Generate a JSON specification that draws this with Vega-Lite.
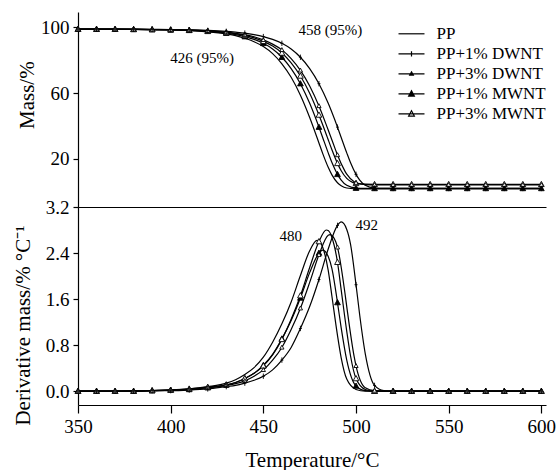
{
  "$schema": "https://vega.github.io/schema/vega-lite/v6.json",
  "padding": {"left": 11, "top": 12, "right": 5, "bottom": 5},
  "spacing": 0,
  "bounds": "flush",
  "background": "white",
  "config": {
    "view": {"stroke": null},
    "axis": {
      "labelFont": "Liberation Serif", "labelFontSize": 19, "labelColor": "black",
      "titleFont": "Liberation Serif", "titleFontSize": 21, "titleFontWeight": "normal", "titleColor": "black",
      "domainColor": "black", "tickColor": "black", "domainWidth": 1.2, "tickWidth": 1.2,
      "grid": false, "labelFlush": false, "labelOverlap": false, "labelBound": false
    }
  },
  "datasets": {
    "tg": [
      {"s":"PP","T":350,"m":98.9,"d":0},{"s":"PP","T":360,"m":98.9,"d":0},{"s":"PP","T":370,"m":98.8,"d":0},{"s":"PP","T":380,"m":98.8,"d":0.01},{"s":"PP","T":390,"m":98.7,"d":0.01},{"s":"PP","T":400,"m":98.5,"d":0.02},{"s":"PP","T":410,"m":98.1,"d":0.04},{"s":"PP","T":420,"m":97.3,"d":0.08},{"s":"PP","T":430,"m":96.0,"d":0.14},{"s":"PP","T":435,"m":95.0,"d":0.20},{"s":"PP","T":440,"m":93.4,"d":0.29},{"s":"PP","T":445,"m":91.3,"d":0.41},{"s":"PP","T":450,"m":88.3,"d":0.59},{"s":"PP","T":455,"m":84.0,"d":0.85},{"s":"PP","T":460,"m":77.8,"d":1.17},{"s":"PP","T":465,"m":69.6,"d":1.55},{"s":"PP","T":470,"m":58.7,"d":2.01},{"s":"PP","T":475,"m":45.1,"d":2.44},{"s":"PP","T":479,"m":32.7,"d":2.62},{"s":"PP","T":480,"m":29.5,"d":2.61},{"s":"PP","T":482,"m":23.2,"d":2.50},{"s":"PP","T":485,"m":14.7,"d":2.10},{"s":"PP","T":487,"m":10.1,"d":1.65},{"s":"PP","T":490,"m":5.3,"d":0.97},{"s":"PP","T":492,"m":3.5,"d":0.58},{"s":"PP","T":495,"m":2.1,"d":0.21},{"s":"PP","T":500,"m":1.6,"d":0.03},{"s":"PP","T":505,"m":1.5,"d":0},{"s":"PP","T":510,"m":1.5,"d":0},{"s":"PP","T":520,"m":1.5,"d":0},{"s":"PP","T":530,"m":1.5,"d":0},{"s":"PP","T":540,"m":1.5,"d":0},{"s":"PP","T":550,"m":1.5,"d":0},{"s":"PP","T":560,"m":1.5,"d":0},{"s":"PP","T":570,"m":1.5,"d":0},{"s":"PP","T":580,"m":1.5,"d":0},{"s":"PP","T":590,"m":1.5,"d":0},{"s":"PP","T":600,"m":1.5,"d":0},

      {"s":"PP+1% MWNT","T":350,"m":98.9,"d":0},{"s":"PP+1% MWNT","T":360,"m":98.9,"d":0},{"s":"PP+1% MWNT","T":370,"m":98.9,"d":0},{"s":"PP+1% MWNT","T":380,"m":98.8,"d":0},{"s":"PP+1% MWNT","T":390,"m":98.7,"d":0.01},{"s":"PP+1% MWNT","T":400,"m":98.5,"d":0.02},{"s":"PP+1% MWNT","T":410,"m":98.2,"d":0.03},{"s":"PP+1% MWNT","T":420,"m":97.6,"d":0.06},{"s":"PP+1% MWNT","T":430,"m":96.5,"d":0.11},{"s":"PP+1% MWNT","T":435,"m":95.6,"d":0.15},{"s":"PP+1% MWNT","T":440,"m":94.4,"d":0.22},{"s":"PP+1% MWNT","T":445,"m":92.7,"d":0.31},{"s":"PP+1% MWNT","T":450,"m":90.3,"d":0.45},{"s":"PP+1% MWNT","T":455,"m":86.8,"d":0.64},{"s":"PP+1% MWNT","T":460,"m":81.8,"d":0.91},{"s":"PP+1% MWNT","T":465,"m":74.9,"d":1.23},{"s":"PP+1% MWNT","T":470,"m":65.7,"d":1.62},{"s":"PP+1% MWNT","T":475,"m":53.7,"d":2.06},{"s":"PP+1% MWNT","T":480,"m":39.2,"d":2.40},{"s":"PP+1% MWNT","T":482,"m":32.9,"d":2.45},{"s":"PP+1% MWNT","T":485,"m":23.5,"d":2.34},{"s":"PP+1% MWNT","T":487,"m":17.6,"d":2.13},{"s":"PP+1% MWNT","T":490,"m":10.4,"d":1.54},{"s":"PP+1% MWNT","T":492,"m":6.9,"d":1.10},{"s":"PP+1% MWNT","T":495,"m":3.7,"d":0.54},{"s":"PP+1% MWNT","T":500,"m":2.0,"d":0.09},{"s":"PP+1% MWNT","T":505,"m":1.8,"d":0.01},{"s":"PP+1% MWNT","T":510,"m":1.8,"d":0},{"s":"PP+1% MWNT","T":520,"m":1.8,"d":0},{"s":"PP+1% MWNT","T":530,"m":1.8,"d":0},{"s":"PP+1% MWNT","T":540,"m":1.8,"d":0},{"s":"PP+1% MWNT","T":550,"m":1.8,"d":0},{"s":"PP+1% MWNT","T":560,"m":1.8,"d":0},{"s":"PP+1% MWNT","T":570,"m":1.8,"d":0},{"s":"PP+1% MWNT","T":580,"m":1.8,"d":0},{"s":"PP+1% MWNT","T":590,"m":1.8,"d":0},{"s":"PP+1% MWNT","T":600,"m":1.8,"d":0},

      {"s":"PP+3% MWNT","T":350,"m":98.9,"d":0},{"s":"PP+3% MWNT","T":360,"m":98.9,"d":0},{"s":"PP+3% MWNT","T":370,"m":98.9,"d":0},{"s":"PP+3% MWNT","T":380,"m":98.8,"d":0},{"s":"PP+3% MWNT","T":390,"m":98.7,"d":0.01},{"s":"PP+3% MWNT","T":400,"m":98.6,"d":0.02},{"s":"PP+3% MWNT","T":410,"m":98.3,"d":0.04},{"s":"PP+3% MWNT","T":420,"m":97.8,"d":0.07},{"s":"PP+3% MWNT","T":430,"m":96.9,"d":0.11},{"s":"PP+3% MWNT","T":435,"m":96.1,"d":0.15},{"s":"PP+3% MWNT","T":440,"m":95.1,"d":0.22},{"s":"PP+3% MWNT","T":445,"m":93.6,"d":0.31},{"s":"PP+3% MWNT","T":450,"m":91.5,"d":0.44},{"s":"PP+3% MWNT","T":455,"m":88.6,"d":0.63},{"s":"PP+3% MWNT","T":460,"m":84.4,"d":0.90},{"s":"PP+3% MWNT","T":465,"m":78.4,"d":1.25},{"s":"PP+3% MWNT","T":470,"m":70.4,"d":1.66},{"s":"PP+3% MWNT","T":475,"m":59.9,"d":2.15},{"s":"PP+3% MWNT","T":480,"m":46.6,"d":2.60},{"s":"PP+3% MWNT","T":484,"m":34.6,"d":2.80},{"s":"PP+3% MWNT","T":485,"m":31.5,"d":2.79},{"s":"PP+3% MWNT","T":487,"m":25.4,"d":2.67},{"s":"PP+3% MWNT","T":490,"m":17.1,"d":2.24},{"s":"PP+3% MWNT","T":492,"m":12.6,"d":1.76},{"s":"PP+3% MWNT","T":495,"m":8.0,"d":1.04},{"s":"PP+3% MWNT","T":497,"m":6.2,"d":0.62},{"s":"PP+3% MWNT","T":500,"m":4.9,"d":0.22},{"s":"PP+3% MWNT","T":505,"m":4.4,"d":0.03},{"s":"PP+3% MWNT","T":510,"m":4.3,"d":0},{"s":"PP+3% MWNT","T":520,"m":4.3,"d":0},{"s":"PP+3% MWNT","T":530,"m":4.3,"d":0},{"s":"PP+3% MWNT","T":540,"m":4.3,"d":0},{"s":"PP+3% MWNT","T":550,"m":4.3,"d":0},{"s":"PP+3% MWNT","T":560,"m":4.3,"d":0},{"s":"PP+3% MWNT","T":570,"m":4.3,"d":0},{"s":"PP+3% MWNT","T":580,"m":4.3,"d":0},{"s":"PP+3% MWNT","T":590,"m":4.3,"d":0},{"s":"PP+3% MWNT","T":600,"m":4.3,"d":0},

      {"s":"PP+3% DWNT","T":350,"m":98.9,"d":0},{"s":"PP+3% DWNT","T":360,"m":98.9,"d":0},{"s":"PP+3% DWNT","T":370,"m":98.9,"d":0},{"s":"PP+3% DWNT","T":380,"m":98.8,"d":0},{"s":"PP+3% DWNT","T":390,"m":98.7,"d":0.01},{"s":"PP+3% DWNT","T":400,"m":98.6,"d":0.02},{"s":"PP+3% DWNT","T":410,"m":98.4,"d":0.03},{"s":"PP+3% DWNT","T":420,"m":97.9,"d":0.06},{"s":"PP+3% DWNT","T":430,"m":97.1,"d":0.10},{"s":"PP+3% DWNT","T":435,"m":96.4,"d":0.13},{"s":"PP+3% DWNT","T":440,"m":95.5,"d":0.18},{"s":"PP+3% DWNT","T":445,"m":94.3,"d":0.26},{"s":"PP+3% DWNT","T":450,"m":92.4,"d":0.37},{"s":"PP+3% DWNT","T":455,"m":89.8,"d":0.54},{"s":"PP+3% DWNT","T":460,"m":86.3,"d":0.76},{"s":"PP+3% DWNT","T":465,"m":81.0,"d":1.07},{"s":"PP+3% DWNT","T":470,"m":73.8,"d":1.44},{"s":"PP+3% DWNT","T":475,"m":64.3,"d":1.89},{"s":"PP+3% DWNT","T":480,"m":52.1,"d":2.37},{"s":"PP+3% DWNT","T":485,"m":37.4,"d":2.71},{"s":"PP+3% DWNT","T":486,"m":34.4,"d":2.72},{"s":"PP+3% DWNT","T":489,"m":25.2,"d":2.60},{"s":"PP+3% DWNT","T":490,"m":22.2,"d":2.50},{"s":"PP+3% DWNT","T":494,"m":12.4,"d":1.71},{"s":"PP+3% DWNT","T":495,"m":10.5,"d":1.47},{"s":"PP+3% DWNT","T":499,"m":5.9,"d":0.60},{"s":"PP+3% DWNT","T":500,"m":5.3,"d":0.44},{"s":"PP+3% DWNT","T":505,"m":4.2,"d":0.06},{"s":"PP+3% DWNT","T":510,"m":4.0,"d":0.01},{"s":"PP+3% DWNT","T":520,"m":4.0,"d":0},{"s":"PP+3% DWNT","T":530,"m":4.0,"d":0},{"s":"PP+3% DWNT","T":540,"m":4.0,"d":0},{"s":"PP+3% DWNT","T":550,"m":4.0,"d":0},{"s":"PP+3% DWNT","T":560,"m":4.0,"d":0},{"s":"PP+3% DWNT","T":570,"m":4.0,"d":0},{"s":"PP+3% DWNT","T":580,"m":4.0,"d":0},{"s":"PP+3% DWNT","T":590,"m":4.0,"d":0},{"s":"PP+3% DWNT","T":600,"m":4.0,"d":0},

      {"s":"PP+1% DWNT","T":350,"m":98.9,"d":0},{"s":"PP+1% DWNT","T":360,"m":98.9,"d":0},{"s":"PP+1% DWNT","T":370,"m":98.9,"d":0},{"s":"PP+1% DWNT","T":380,"m":98.9,"d":0},{"s":"PP+1% DWNT","T":390,"m":98.8,"d":0.01},{"s":"PP+1% DWNT","T":400,"m":98.7,"d":0.01},{"s":"PP+1% DWNT","T":410,"m":98.5,"d":0.02},{"s":"PP+1% DWNT","T":420,"m":98.2,"d":0.04},{"s":"PP+1% DWNT","T":430,"m":97.6,"d":0.08},{"s":"PP+1% DWNT","T":435,"m":97.1,"d":0.10},{"s":"PP+1% DWNT","T":440,"m":96.5,"d":0.14},{"s":"PP+1% DWNT","T":445,"m":95.6,"d":0.19},{"s":"PP+1% DWNT","T":450,"m":94.4,"d":0.26},{"s":"PP+1% DWNT","T":455,"m":92.7,"d":0.37},{"s":"PP+1% DWNT","T":460,"m":90.3,"d":0.54},{"s":"PP+1% DWNT","T":465,"m":86.8,"d":0.76},{"s":"PP+1% DWNT","T":470,"m":81.8,"d":1.09},{"s":"PP+1% DWNT","T":475,"m":74.9,"d":1.47},{"s":"PP+1% DWNT","T":480,"m":65.7,"d":1.94},{"s":"PP+1% DWNT","T":485,"m":53.7,"d":2.47},{"s":"PP+1% DWNT","T":490,"m":39.2,"d":2.88},{"s":"PP+1% DWNT","T":492,"m":32.9,"d":2.94},{"s":"PP+1% DWNT","T":495,"m":23.5,"d":2.81},{"s":"PP+1% DWNT","T":497,"m":17.6,"d":2.56},{"s":"PP+1% DWNT","T":500,"m":10.4,"d":1.85},{"s":"PP+1% DWNT","T":502,"m":6.9,"d":1.32},{"s":"PP+1% DWNT","T":505,"m":3.7,"d":0.65},{"s":"PP+1% DWNT","T":510,"m":2.0,"d":0.10},{"s":"PP+1% DWNT","T":515,"m":1.8,"d":0.01},{"s":"PP+1% DWNT","T":520,"m":1.8,"d":0},{"s":"PP+1% DWNT","T":530,"m":1.8,"d":0},{"s":"PP+1% DWNT","T":540,"m":1.8,"d":0},{"s":"PP+1% DWNT","T":550,"m":1.8,"d":0},{"s":"PP+1% DWNT","T":560,"m":1.8,"d":0},{"s":"PP+1% DWNT","T":570,"m":1.8,"d":0},{"s":"PP+1% DWNT","T":580,"m":1.8,"d":0},{"s":"PP+1% DWNT","T":590,"m":1.8,"d":0},{"s":"PP+1% DWNT","T":600,"m":1.8,"d":0}
    ],
    "anTop": [
      {"T": 417, "m": 81.3, "t": "426 (95%)"},
      {"T": 486.2, "m": 98.2, "t": "458 (95%)"}
    ],
    "anBot": [
      {"T": 464.8, "d": 2.70, "t": "480"},
      {"T": 505.8, "d": 2.88, "t": "492"}
    ]
  },
  "resolve": {
    "scale": {"shape": "independent", "fill": "independent"},
    "legend": {"shape": "independent", "fill": "independent"}
  },
  "vconcat": [
    {
      "width": 468,
      "height": 195,
      "resolve": {"scale": {"shape": "independent"}, "legend": {"shape": "independent"}},
      "encoding": {
        "x": {"field": "T", "type": "quantitative",
              "scale": {"domain": [350, 602.5], "nice": false, "zero": false},
              "axis": {"domain": true, "ticks": false, "labels": false, "title": null}},
        "y": {"field": "m", "type": "quantitative",
              "scale": {"domain": [-9.5, 109.4], "nice": false, "zero": false},
              "axis": {"values": [20, 60, 100], "format": "d", "tickSize": 5, "labelPadding": 4,
                       "title": "Mass/%", "titleX": -45, "titleY": 82.7, "titleAngle": -90,
                       "titleBaseline": "alphabetic", "titleAlign": "center"}}
      },
      "layer": [
        {
          "data": {"name": "tg"},
          "mark": {"type": "line", "interpolate": "monotone", "color": "black", "strokeWidth": 1.2},
          "encoding": {"detail": {"field": "s", "type": "nominal"}}
        },
        {
          "data": {"name": "tg"},
          "transform": [{"filter": "datum.s !== 'PP' && datum.T % 10 === 0"}],
          "mark": {"type": "point", "filled": true, "stroke": "black", "strokeWidth": 0.9, "size": 36, "opacity": 1},
          "encoding": {
            "shape": {"field": "s", "type": "nominal",
                      "scale": {"domain": ["PP", "PP+1% DWNT", "PP+3% DWNT", "PP+1% MWNT", "PP+3% MWNT"],
                                "range": ["M0,0", "M0,-0.9V0.9M-0.5,0H0.5", "M0,-0.75L0.7,0.55H-0.7Z", "M0,-1L0.95,0.75H-0.95Z", "M0,-1L0.95,0.75H-0.95Z"]},
                      "legend": null},
            "fill": {"field": "s", "type": "nominal",
                     "scale": {"domain": ["PP", "PP+1% DWNT", "PP+3% DWNT", "PP+1% MWNT", "PP+3% MWNT"],
                               "range": ["white", "white", "white", "black", "white"]},
                     "legend": null}
          }
        },
        {
          "data": {"name": "tg"},
          "transform": [{"filter": "datum.T < 0"}],
          "mark": {"type": "point", "filled": false, "color": "black", "strokeWidth": 1.2, "opacity": 1},
          "encoding": {
            "shape": {"field": "s", "type": "nominal",
                      "scale": {"domain": ["PP", "PP+1% DWNT", "PP+3% DWNT", "PP+1% MWNT", "PP+3% MWNT"],
                                "range": ["M-1.5,0H1.5", "M-1.5,0H1.5M0,-0.3V0.3", "M-1.5,0H1.5M0,-0.22L0.21,0.16H-0.21Z", "M-1.5,0H1.5M0,-0.35L0.33,0.26H-0.33ZM0,-0.22L0.2,0.17H-0.2ZM0,-0.1L0.08,0.08H-0.08Z", "M-1.5,0H1.5M0,-0.35L0.33,0.26H-0.33Z"]},
                      "legend": {
                        "orient": "none", "legendX": 324, "legendY": 12.3, "title": null,
                        "padding": 0, "symbolSize": 300, "rowPadding": 2, "labelOffset": 15.5,
                        "labelFont": "Liberation Serif", "labelFontSize": 17, "labelColor": "black",
                        "symbolStrokeColor": "black", "symbolStrokeWidth": 1.2, "symbolOpacity": 1
                      }}
          }
        },
        {
          "data": {"name": "anTop"},
          "mark": {"type": "text", "font": "Liberation Serif", "fontSize": 15, "color": "black", "align": "center", "baseline": "middle"},
          "encoding": {"text": {"field": "t", "type": "nominal"}}
        }
      ]
    },
    {
      "width": 468,
      "height": 198,
      "encoding": {
        "x": {"field": "T", "type": "quantitative",
              "scale": {"domain": [350, 602.5], "nice": false, "zero": false},
              "axis": {"values": [350, 400, 450, 500, 550, 600], "format": "d", "tickSize": 8, "labelPadding": 4,
                       "title": "Temperature/°C", "titleY": 61, "titleBaseline": "alphabetic"}},
        "y": {"field": "d", "type": "quantitative",
              "scale": {"domain": [-0.24, 3.2], "nice": false, "zero": false},
              "axis": {"values": [0, 0.8, 1.6, 2.4, 3.2], "format": ".1f", "tickSize": 5, "labelPadding": 4,
                       "title": "Derivative mass/% °C⁻¹", "titleX": -49, "titleY": 118, "titleAngle": -90,
                       "titleBaseline": "alphabetic", "titleAlign": "center"}}
      },
      "layer": [
        {
          "data": {"name": "tg"},
          "mark": {"type": "line", "interpolate": "monotone", "color": "black", "strokeWidth": 1.2},
          "encoding": {"detail": {"field": "s", "type": "nominal"}}
        },
        {
          "data": {"name": "tg"},
          "transform": [{"filter": "datum.s !== 'PP' && datum.T % 10 === 0"}],
          "mark": {"type": "point", "filled": true, "stroke": "black", "strokeWidth": 0.9, "size": 36, "opacity": 1},
          "encoding": {
            "shape": {"field": "s", "type": "nominal",
                      "scale": {"domain": ["PP", "PP+1% DWNT", "PP+3% DWNT", "PP+1% MWNT", "PP+3% MWNT"],
                                "range": ["M0,0", "M0,-0.9V0.9M-0.5,0H0.5", "M0,-0.75L0.7,0.55H-0.7Z", "M0,-1L0.95,0.75H-0.95Z", "M0,-1L0.95,0.75H-0.95Z"]},
                      "legend": null},
            "fill": {"field": "s", "type": "nominal",
                     "scale": {"domain": ["PP", "PP+1% DWNT", "PP+3% DWNT", "PP+1% MWNT", "PP+3% MWNT"],
                               "range": ["white", "white", "white", "black", "white"]},
                     "legend": null}
          }
        },
        {
          "data": {"name": "anBot"},
          "mark": {"type": "text", "font": "Liberation Serif", "fontSize": 15, "color": "black", "align": "center", "baseline": "middle"},
          "encoding": {"text": {"field": "t", "type": "nominal"}}
        }
      ]
    }
  ]
}
